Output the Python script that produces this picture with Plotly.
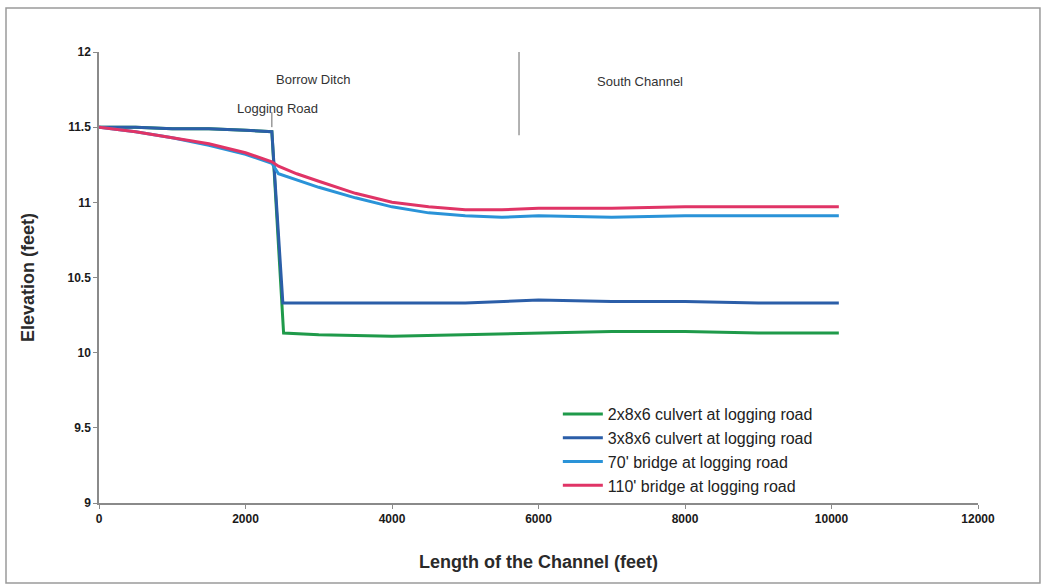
import plotly.graph_objects as go

# Channel stations (feet) and water-surface elevations (feet) for each scenario
culvert_2x_station = [0, 500, 1000, 1500, 2000, 2360, 2520, 3000, 4000, 5000, 6000, 7000, 8000, 9000, 10100]
culvert_2x_elev = [11.5, 11.5, 11.49, 11.49, 11.48, 11.47, 10.13, 10.12, 10.11, 10.12, 10.13, 10.14, 10.14, 10.13, 10.13]

culvert_3x_station = [0, 500, 1000, 1500, 2000, 2360, 2510, 3000, 4000, 5000, 6000, 7000, 8000, 9000, 10100]
culvert_3x_elev = [11.5, 11.5, 11.49, 11.49, 11.48, 11.47, 10.33, 10.33, 10.33, 10.33, 10.35, 10.34, 10.34, 10.33, 10.33]

bridge_station = [0, 500, 1000, 1500, 2000, 2360, 2450, 2700, 3000, 3500, 4000, 4500, 5000, 5500, 6000, 7000, 8000, 9000, 10100]
bridge_70_elev = [11.5, 11.47, 11.43, 11.38, 11.32, 11.26, 11.19, 11.15, 11.10, 11.03, 10.97, 10.93, 10.91, 10.90, 10.91, 10.90, 10.91, 10.91, 10.91]
bridge_110_elev = [11.5, 11.47, 11.43, 11.39, 11.33, 11.27, 11.24, 11.19, 11.14, 11.06, 11.00, 10.97, 10.95, 10.95, 10.96, 10.96, 10.97, 10.97, 10.97]

series_names = [
    "2x8x6 culvert at logging road",
    "3x8x6 culvert at logging road",
    "70' bridge at logging road",
    "110' bridge at logging road",
]
series_colors = ["#1f9a4a", "#2b5ea8", "#2a93d8", "#e03466"]

x_ticks = [0, 2000, 4000, 6000, 8000, 10000, 12000]
y_ticks = [9, 9.5, 10, 10.5, 11, 11.5, 12]

# Reach markers along the channel
logging_road_station = 2360
south_channel_station = 5734

fig = go.Figure()
series = [
    (culvert_2x_station, culvert_2x_elev),
    (culvert_3x_station, culvert_3x_elev),
    (bridge_station, bridge_70_elev),
    (bridge_station, bridge_110_elev),
]
for (xs, ys), name, color in zip(series, series_names, series_colors):
    fig.add_trace(go.Scatter(x=xs, y=ys, mode="lines", name=name,
                             line=dict(color=color, width=3)))

axis_font = dict(family="Liberation Sans, Arial, sans-serif", size=12, color="#1a1a1a", weight="bold")
title_font = dict(family="Liberation Sans, Arial, sans-serif", size=18, color="#2a2a2a", weight="bold")

fig.update_xaxes(range=[0, 12000], tickvals=x_ticks, tickformat="d",
                 showgrid=False, zeroline=False, showline=True, linecolor="#8a8a8a", linewidth=1.5,
                 ticks="outside", ticklen=4, tickcolor="#8a8a8a", tickfont=axis_font,
                 title=dict(text="Length of the Channel (feet)", font=title_font, standoff=30))
fig.update_yaxes(range=[9, 12], tickvals=y_ticks,
                 showgrid=False, zeroline=False, showline=True, linecolor="#8a8a8a", linewidth=1.5,
                 ticks="outside", ticklen=4, tickcolor="#8a8a8a", tickfont=axis_font,
                 title=dict(text="Elevation (feet)", font=title_font, standoff=28))

label_font = dict(family="Liberation Sans, Arial, sans-serif", size=13, color="#333")
fig.add_annotation(x=2921, y=11.82, text="Borrow Ditch", showarrow=False, font=label_font)
fig.add_annotation(x=2430, y=11.627, text="Logging Road", showarrow=False, font=label_font)
fig.add_annotation(x=7386, y=11.807, text="South Channel", showarrow=False, font=label_font)

fig.add_shape(type="line", x0=logging_road_station, x1=logging_road_station, y0=11.5, y1=11.6,
              line=dict(color="#666", width=1))
fig.add_shape(type="line", x0=south_channel_station, x1=south_channel_station, y0=11.447, y1=12.0,
              line=dict(color="#999", width=1.5))

# Outer frame around the whole chart
fig.add_shape(type="rect", xref="paper", yref="paper",
              x0=-0.1058, x1=1.0705, y0=-0.1774, y1=1.0976,
              line=dict(color="#9a9a9a", width=1.5), fillcolor="rgba(0,0,0,0)")

fig.update_layout(
    width=1045, height=588,
    margin=dict(l=99, r=67, t=52, b=85),
    paper_bgcolor="white", plot_bgcolor="white",
    legend=dict(x=0.522, y=0.235, xanchor="left", yanchor="top", itemwidth=40,
                bgcolor="rgba(0,0,0,0)", tracegroupgap=0,
                font=dict(family="Liberation Sans, Arial, sans-serif", size=16, color="#222")),
    showlegend=True,
)

fig.write_html("out.html")
